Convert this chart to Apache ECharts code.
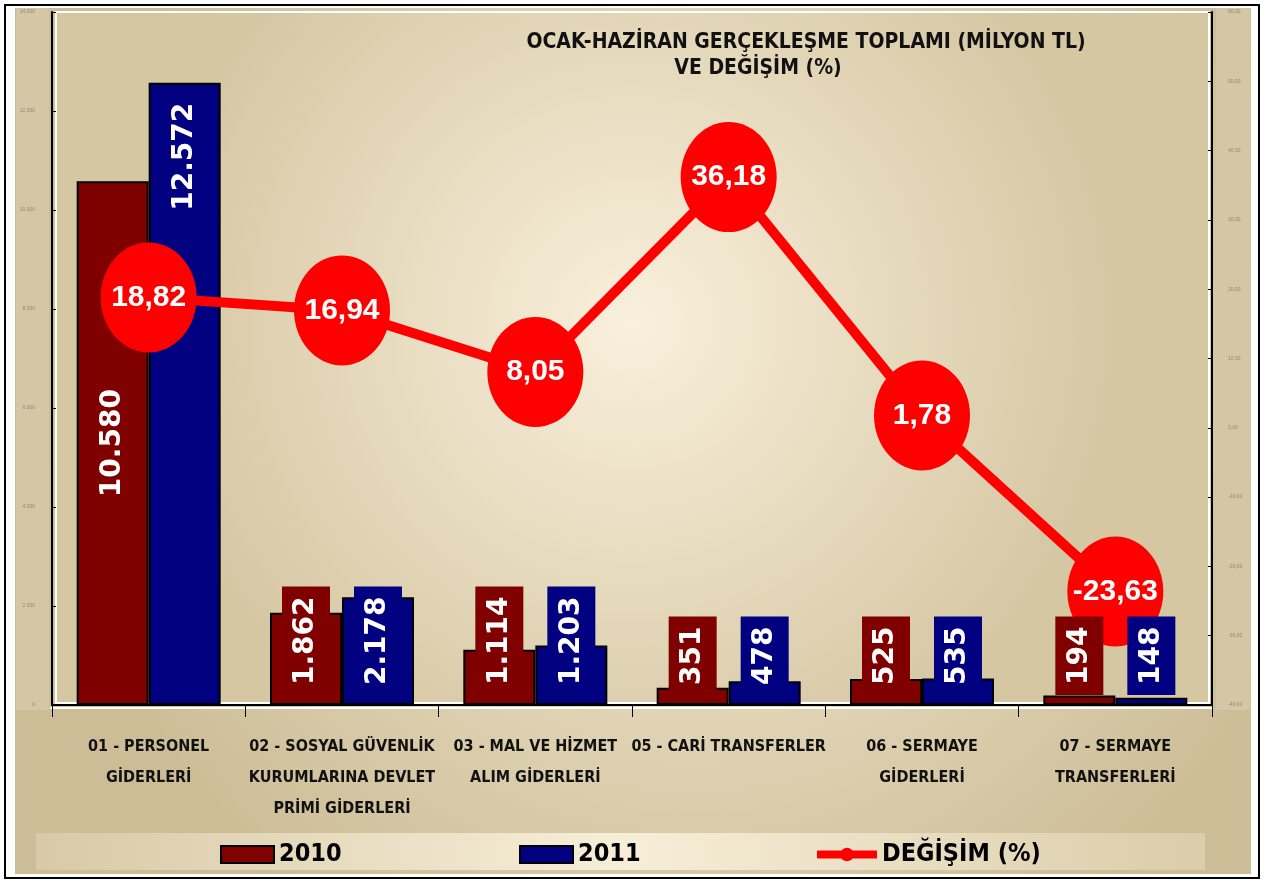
<!DOCTYPE html>
<html>
<head>
<meta charset="utf-8">
<script src="https://cdn.jsdelivr.net/npm/echarts@6/dist/echarts.min.js"></script>
<style>
  html, body { margin: 0; padding: 0; background: #fff; }
  #chart { width: 1269px; height: 882px; }
</style>
</head>
<body>
<div id="chart"></div>
<script>
// 分类与数据
const categories = [
    '01 - PERSONEL\nGİDERLERİ',
    '02 - SOSYAL GÜVENLİK\nKURUMLARINA DEVLET\nPRİMİ GİDERLERİ',
    '03 - MAL VE HİZMET\nALIM GİDERLERİ',
    '05 - CARİ TRANSFERLER',
    '06 - SERMAYE\nGİDERLERİ',
    '07 - SERMAYE\nTRANSFERLERİ'
];
const values2010 = [10580, 1862, 1114, 351, 525, 194];
const values2011 = [12572, 2178, 1203, 478, 535, 148];
const change = [18.82, 16.94, 8.05, 36.18, 1.78, -23.63];

const C2010 = '#800000';
const C2011 = '#000080';
const RED = '#ff0000';
const NARROW = "'Liberation Sans Narrow', 'DejaVu Sans Condensed', 'Liberation Sans', sans-serif";

const fmtThousands = v => String(v).replace(/\B(?=(\d{3})+(?!\d))/g, '.');
const fmtComma = v => v.toFixed(2).replace('.', ',');

// 柱内竖排标签
function barLabel(color) {
    return {
        show: true,
        rotate: 90,
        position: 'insideBottom',
        align: 'left',
        verticalAlign: 'middle',
        distance: 10,
        color: '#fff',
        fontFamily: "'DejaVu Sans', sans-serif",
        fontWeight: 'bold',
        fontSize: 28,
        backgroundColor: color,
        padding: [10, 10],
        formatter: p => fmtThousands(p.value)
    };
}

function labelData(values, firstPos) {
    return values.map((v, i) => {
        if (i !== 0) return v;
        const lbl = firstPos === 'inside'
            ? { position: 'inside', align: 'center', verticalAlign: 'middle' }
            : { position: 'insideTop', align: 'right', verticalAlign: 'middle', distance: 10 };
        return { value: v, label: lbl };
    });
}

const ellipse = 'path://M0,50 A50,50 0 1,1 100,50 A50,50 0 1,1 0,50 Z';
const legendText = { fontFamily: NARROW, fontWeight: 'bold', fontSize: 25, color: '#000' };

const chart = echarts.init(document.getElementById('chart'));

chart.setOption({
    backgroundColor: '#ffffff',
    animation: false,
    title: [
        {
            text: 'OCAK-HAZİRAN GERÇEKLEŞME TOPLAMI (MİLYON TL)',
            left: 801, top: 27, textAlign: 'center',
            textStyle: { fontFamily: NARROW, fontWeight: 'bold', fontSize: 21, color: '#111' }
        },
        {
            text: 'VE DEĞİŞİM (%)',
            left: 753, top: 53, textAlign: 'center',
            textStyle: { fontFamily: NARROW, fontWeight: 'bold', fontSize: 21, color: '#111' }
        }
    ],
    graphic: [
        { type: 'rect', z: -10, shape: { x: 15, y: 8, width: 1236, height: 866 },
          style: { fill: { type: 'radial', x: 0.55, y: 0.42, r: 0.75,
              colorStops: [{ offset: 0, color: '#f6eed8' }, { offset: 1, color: '#cdbd97' }] } } },
        { type: 'rect', z: -9, shape: { x: 16, y: 8, width: 33, height: 702 },
          style: { fill: '#d5c7a5' } },
        { type: 'rect', z: -9, shape: { x: 1216, y: 8, width: 34, height: 702 },
          style: { fill: '#d5c7a5' } },
        { type: 'rect', z: -8, shape: { x: 56, y: 12, width: 1153, height: 691 },
          style: { fill: { type: 'radial', x: 0.5, y: 0.45, r: 0.7,
              colorStops: [{ offset: 0, color: '#f9f0dc' }, { offset: 1, color: '#d6c7a3' }] },
              stroke: '#ffffff', lineWidth: 2 } },
        { type: 'line', z: -7, shape: { x1: 50, y1: 708, x2: 1212, y2: 708 },
          style: { stroke: '#ffffff', lineWidth: 2 } },
        { type: 'rect', z: -8, shape: { x: 36, y: 833, width: 1169, height: 37 },
          style: { fill: { type: 'linear', x: 0, y: 0, x2: 1, y2: 0,
              colorStops: [{ offset: 0, color: '#d8caa7' }, { offset: 0.5, color: '#f7eed8' }, { offset: 1, color: '#dbcdaa' }] } } },
        { type: 'rect', z: 100, shape: { x: 5, y: 5, width: 1254, height: 873 },
          style: { fill: 'none', stroke: '#000', lineWidth: 2 } }
    ],
    legend: [
        {
            data: [{ name: '2010', icon: 'rect' }], left: 215, top: 837, itemWidth: 53, itemHeight: 17,
            textStyle: legendText
        },
        {
            data: [{ name: '2011', icon: 'rect' }], left: 514, top: 837, itemWidth: 53, itemHeight: 17,
            textStyle: legendText
        },
        {
            data: ['DEĞİŞİM (%)'], left: 808, top: 837, itemWidth: 60, itemHeight: 17,
            lineStyle: { width: 8 },
            textStyle: legendText
        }
    ],
    grid: { left: 52, right: 57, top: 12, bottom: 177 },
    xAxis: [
        {
            type: 'category',
            data: categories,
            axisLine: { lineStyle: { color: '#000', width: 2 } },
            axisTick: { show: true, length: 12, lineStyle: { color: '#000' } },
            axisLabel: {
                interval: 0, margin: 26, lineHeight: 31,
                fontFamily: NARROW, fontWeight: 'bold', fontSize: 16, color: '#111'
            }
        },
        {
            type: 'category',
            data: categories,
            show: false
        }
    ],
    yAxis: [
        {
            type: 'value', min: 0, max: 14000, interval: 2000,
            splitLine: { show: false },
            axisLine: { show: true, lineStyle: { color: '#000', width: 2 } },
            axisTick: { show: true, inside: true, length: 4, lineStyle: { color: '#000' } },
            axisLabel: { fontSize: 5, color: '#8d8877', margin: 17, formatter: v => fmtThousands(v) }
        },
        {
            type: 'value', min: -40, max: 60, interval: 10, position: 'right',
            splitLine: { show: false },
            axisLine: { show: true, lineStyle: { color: '#000', width: 2 } },
            axisTick: { show: true, inside: true, length: 4, lineStyle: { color: '#000' } },
            axisLabel: { fontSize: 5, color: '#8d8877', margin: 16, formatter: v => fmtComma(v) }
        }
    ],
    series: [
        {
            name: '2010', type: 'bar', data: values2010, z: 2,
            barWidth: 72, barGap: '0%',
            itemStyle: { color: C2010, borderColor: '#000', borderWidth: 2 }
        },
        {
            name: '2011', type: 'bar', data: values2011, z: 2,
            barWidth: 72, barGap: '0%',
            itemStyle: { color: C2011, borderColor: '#000', borderWidth: 2 }
        },
        {
            name: 'DEĞİŞİM (%)', type: 'line', data: change, yAxisIndex: 1, z: 3,
            symbol: ellipse, symbolSize: [96, 110],
            lineStyle: { color: RED, width: 10 },
            itemStyle: { color: RED },
            label: {
                show: true, position: 'inside', color: '#fff',
                fontFamily: "'Liberation Sans', Arial, sans-serif",
                fontWeight: 'bold', fontSize: 30,
                formatter: p => fmtComma(p.value)
            }
        },
        {
            name: 'lbl2010', type: 'bar', xAxisIndex: 1, z: 5,
            data: labelData(values2010, 'inside'),
            barWidth: 72, barGap: '0%',
            itemStyle: { color: 'rgba(0,0,0,0)' },
            label: barLabel(C2010)
        },
        {
            name: 'lbl2011', type: 'bar', xAxisIndex: 1, z: 5,
            data: labelData(values2011, 'insideTop'),
            barWidth: 72, barGap: '0%',
            itemStyle: { color: 'rgba(0,0,0,0)' },
            label: barLabel(C2011)
        }
    ]
});
</script>
</body>
</html>
